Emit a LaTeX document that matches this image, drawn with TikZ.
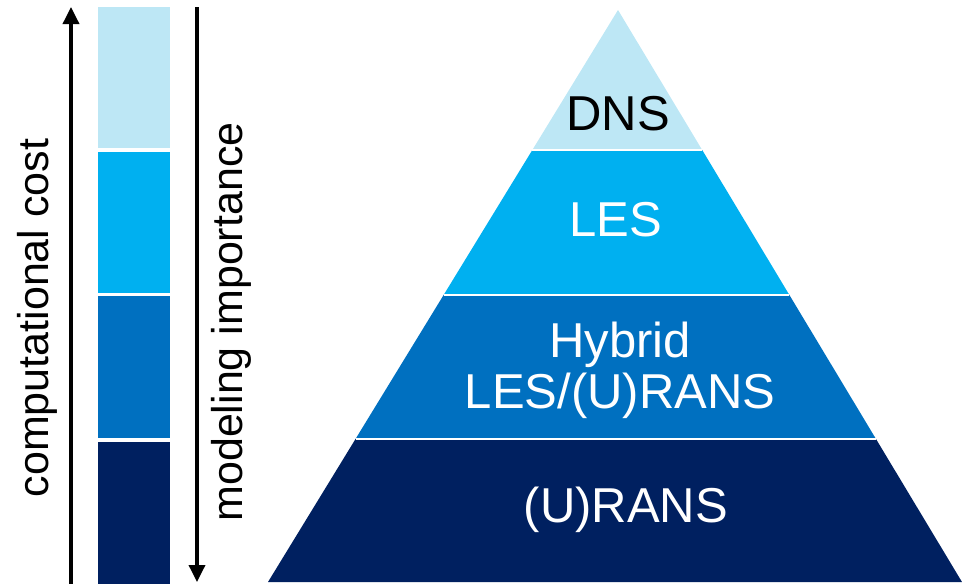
\documentclass[tikz,border=0pt]{standalone}
\usepackage{fontspec}
\setmainfont{Liberation Sans}
\usetikzlibrary{positioning}
\usetikzlibrary{calc}
\usetikzlibrary{arrows.meta}
\definecolor{dns_blue}{HTML}{BDE7F5}
\definecolor{les_blue}{HTML}{00B0F0}
\definecolor{hybrid_blue}{HTML}{0070C0}
\definecolor{rans_blue}{HTML}{002060}
\tikzset{
  arrow_axis/.style={-{Triangle[width=16pt,length=17pt]}, line width=3.5pt, color=black},
  layer_gap/.style={white, line width=2pt},
  layer_label/.style={font=\fontsize{49}{51}\selectfont, align=center, inner sep=0, text=white},
  axis_label/.style={font=\fontsize{43}{46}\selectfont, rotate=90, inner sep=0, anchor=base}
}

\begin{document}
\begin{tikzpicture}[x=1pt, y=-1pt]
\useasboundingbox (0,0) rectangle (962,584);

%% Bar
\fill[dns_blue]    (98,7)   rectangle (170,148);
\fill[les_blue]    (98,152) rectangle (170,293);
\fill[hybrid_blue] (98,296) rectangle (170,438);
\fill[rans_blue]   (98,442) rectangle (170,584);

%% Arrows
\coordinate (cost_start) at (71,584);
\coordinate (cost_end)   at (71,7);
\coordinate (imp_start)  at (197,7);
\coordinate (imp_end)    at (197,582);
\draw[arrow_axis] (cost_start) -- (cost_end);
\draw[arrow_axis] (imp_start) -- (imp_end);

\node[axis_label] (cost) at (48,318) {computational cost};
\node[axis_label] (imp)  at (242,322) {modeling importance};

%% Pyramid
\coordinate (apex)   at (618,10);
\coordinate (base_l) at (268,582);
\coordinate (base_r) at (962,582);

\coordinate (l1) at ($(apex)!0.245!(base_l)$);
\coordinate (r1) at ($(apex)!0.245!(base_r)$);
\coordinate (l2) at ($(apex)!0.498!(base_l)$);
\coordinate (r2) at ($(apex)!0.498!(base_r)$);
\coordinate (l3) at ($(apex)!0.75!(base_l)$);
\coordinate (r3) at ($(apex)!0.75!(base_r)$);

\fill[dns_blue]    (apex) -- (r1) -- (l1) -- cycle;
\fill[les_blue]    (l1) -- (r1) -- (r2) -- (l2) -- cycle;
\fill[hybrid_blue] (l2) -- (r2) -- (r3) -- (l3) -- cycle;
\fill[rans_blue]   (l3) -- (r3) -- (base_r) -- (base_l) -- cycle;

\draw[layer_gap] (l1) -- (r1);
\draw[layer_gap] (l2) -- (r2);
\draw[layer_gap] (l3) -- (r3);

\node[layer_label, text=black] (dns) at (618,114) {DNS};
\node[layer_label] (les)    at (616,220) {LES};
\node[layer_label] (hybrid) at (620,370) {Hybrid\\LES/(U)RANS};
\node[layer_label] (rans)   at (626,510) {(U)RANS};

\end{tikzpicture}
\end{document}
